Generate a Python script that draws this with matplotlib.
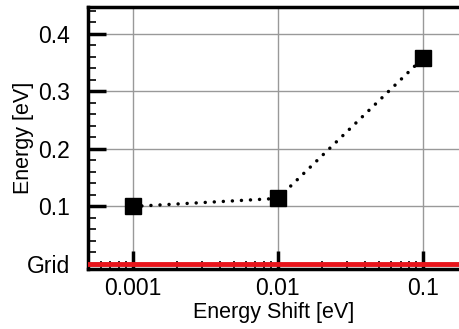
import matplotlib

matplotlib.use("Agg")

import matplotlib.pyplot as plt
from matplotlib.ticker import FixedLocator, LogLocator, MultipleLocator, NullFormatter

plt.rcParams["font.family"] = ["Liberation Sans", "DejaVu Sans"]

shift = [0.001, 0.01, 0.1]
energy = [0.100, 0.114, 0.358]
grid_level = 0.0

x_ticks = [0.001, 0.01, 0.1]
x_labels = ["0.001", "0.01", "0.1"]
y_ticks = [0.0, 0.1, 0.2, 0.3, 0.4]
y_labels = ["Grid", "0.1", "0.2", "0.3", "0.4"]

fig = plt.figure(figsize=(4.6, 3.29), dpi=100)
ax = fig.add_axes([0.191, 0.182, 0.809, 0.797])

ax.set_xscale("log")
ax.set_xlim(10 ** -3.31, 10 ** -0.745)
ax.set_ylim(-0.009, 0.447)

ax.grid(True, which="major", color="#999999", lw=1.0)
ax.axhline(grid_level, color="#e8141b", lw=3.5, zorder=3)
ax.plot(shift, energy, ls=(0, (0.01, 2.6)), lw=2.5, color="black", dash_capstyle="round",
        marker="s", ms=11, mfc="black", mec="black", zorder=4)

ax.xaxis.set_major_locator(FixedLocator(x_ticks))
ax.set_xticklabels(x_labels)
ax.xaxis.set_minor_locator(LogLocator(base=10, subs=range(2, 10)))
ax.xaxis.set_minor_formatter(NullFormatter())
ax.yaxis.set_major_locator(FixedLocator(y_ticks))
ax.set_yticklabels(y_labels)
ax.yaxis.set_minor_locator(MultipleLocator(0.02))

ax.tick_params(which="major", direction="in", length=13, width=2.5, labelsize=16.5)
ax.tick_params(which="minor", direction="in", length=6, width=1.2)
ax.tick_params(axis="y", which="major", pad=13)
ax.tick_params(axis="x", which="major", pad=6)

ax.spines["right"].set_visible(False)
for side in ["left", "top", "bottom"]:
    ax.spines[side].set_linewidth(2.5)

ax.set_xlabel("Energy Shift [eV]", fontsize=15.5, labelpad=1)
ax.set_ylabel("Energy [eV]", fontsize=15.5)
ax.yaxis.set_label_coords(-0.145, 0.5)

fig.savefig("out.png", dpi=100)
